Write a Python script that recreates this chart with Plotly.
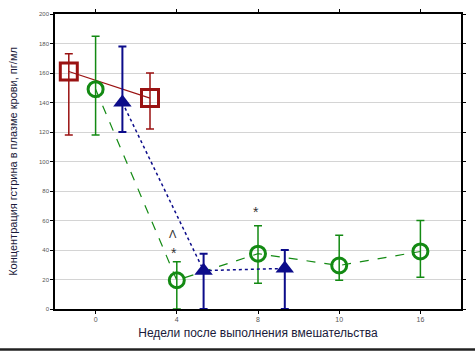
import plotly.graph_objects as go

# Category ticks (weeks after intervention)
week_labels = ["0", "4", "8", "10", "16"]

# Series 1 (red squares) — weeks 0 and 4
red_idx = [0, 1]
red_val = [161, 143]
red_hi = [173, 160]
red_lo = [118, 122]

# Series 2 (green circles) — all weeks
green_idx = [0, 1, 2, 3, 4]
green_val = [149, 19.5, 37.5, 29.5, 39]
green_hi = [185, 32, 56.5, 50, 60]
green_lo = [118, 0, 17.5, 19.5, 21.5]

# Series 3 (blue triangles) — weeks 0, 4, 8
blue_idx = [0, 1, 2]
blue_val = [140, 26, 27.5]
blue_hi = [178, 37.5, 40]
blue_lo = [120, 0, 0]

RED = "#9a1212"
GREEN = "#138a13"
BLUE = "#0c0c8a"


def errs(v, hi, lo):
    return [h - x for x, h in zip(v, hi)], [x - l for x, l in zip(v, lo)]


fig = go.Figure()

ru, rd = errs(red_val, red_hi, red_lo)
fig.add_trace(go.Scatter(
    x=[i - 0.33 for i in red_idx], y=red_val, mode="lines+markers",
    line=dict(color=RED, width=1.2),
    marker=dict(symbol="square-open", size=17, color=RED, line=dict(width=3)),
    error_y=dict(type="data", symmetric=False, array=ru, arrayminus=rd,
                 color=RED, thickness=1.5, width=4),
    showlegend=False))

gu, gd = errs(green_val, green_hi, green_lo)
fig.add_trace(go.Scatter(
    x=green_idx, y=green_val, mode="lines+markers",
    line=dict(color=GREEN, width=1.2, dash="dash"),
    marker=dict(symbol="circle-open", size=15, color=GREEN, line=dict(width=3)),
    error_y=dict(type="data", symmetric=False, array=gu, arrayminus=gd,
                 color=GREEN, thickness=1.5, width=4),
    showlegend=False))

bu, bd = errs(blue_val, blue_hi, blue_lo)
fig.add_trace(go.Scatter(
    x=[i + 0.33 for i in blue_idx], y=blue_val, mode="lines+markers",
    line=dict(color=BLUE, width=1.5, dash="dot"),
    marker=dict(symbol="triangle-up", size=16, color=BLUE),
    error_y=dict(type="data", symmetric=False, array=bu, arrayminus=bd,
                 color=BLUE, thickness=2, width=4),
    showlegend=False))

# significance marks
marks_x = [0.97, 0.95, 1.97]
marks_y = [38, 51, 66]
marks_t = ["*", "Λ", "*"]
for mx, my, mt in zip(marks_x, marks_y, marks_t):
    fig.add_annotation(x=mx, y=my, text=mt, showarrow=False,
                       font=dict(size=14 if mt == "*" else 11, color="#333333",
                                 family="Liberation Sans, Arial"))

fig.update_layout(
    width=475, height=356,
    margin=dict(l=55, r=9, t=11, b=47),
    paper_bgcolor="white", plot_bgcolor="white",
    font=dict(family="Liberation Sans, Arial", color="#222222"),
    xaxis=dict(range=[-0.5, 4.5], tickvals=list(range(len(week_labels))),
               ticktext=week_labels, showgrid=False, zeroline=False,
               showline=True, linecolor="black", linewidth=1.5, mirror="allticks",
               ticks="outside", ticklen=3, tickcolor="black",
               tickfont=dict(size=7, color="#555555"),
               title=dict(text="Недели после выполнения вмешательства",
                          font=dict(size=12, color="#1a1a3a"), standoff=6)),
    yaxis=dict(range=[0, 200], dtick=20, showgrid=True, gridcolor="#d4d4d4",
               gridwidth=1.2, zeroline=False,
               showline=True, linecolor="black", linewidth=1.5, mirror="allticks",
               ticks="outside", ticklen=3, tickcolor="black",
               tickfont=dict(size=6, color="#555555"),
               title=dict(text="Концентрация гстрина в плазме крови, пг/мл",
                          font=dict(size=11, color="#1a1a3a"), standoff=19)),
)

fig.add_shape(type="line", xref="paper", yref="paper", x0=-0.2, x1=1.05,
              y0=-0.137, y1=-0.137, line=dict(color="#222222", width=2.5))

fig.write_html("out.html", config={"displayModeBar": False},
               post_script="document.body.style.margin='0';document.body.style.overflow='hidden';")
